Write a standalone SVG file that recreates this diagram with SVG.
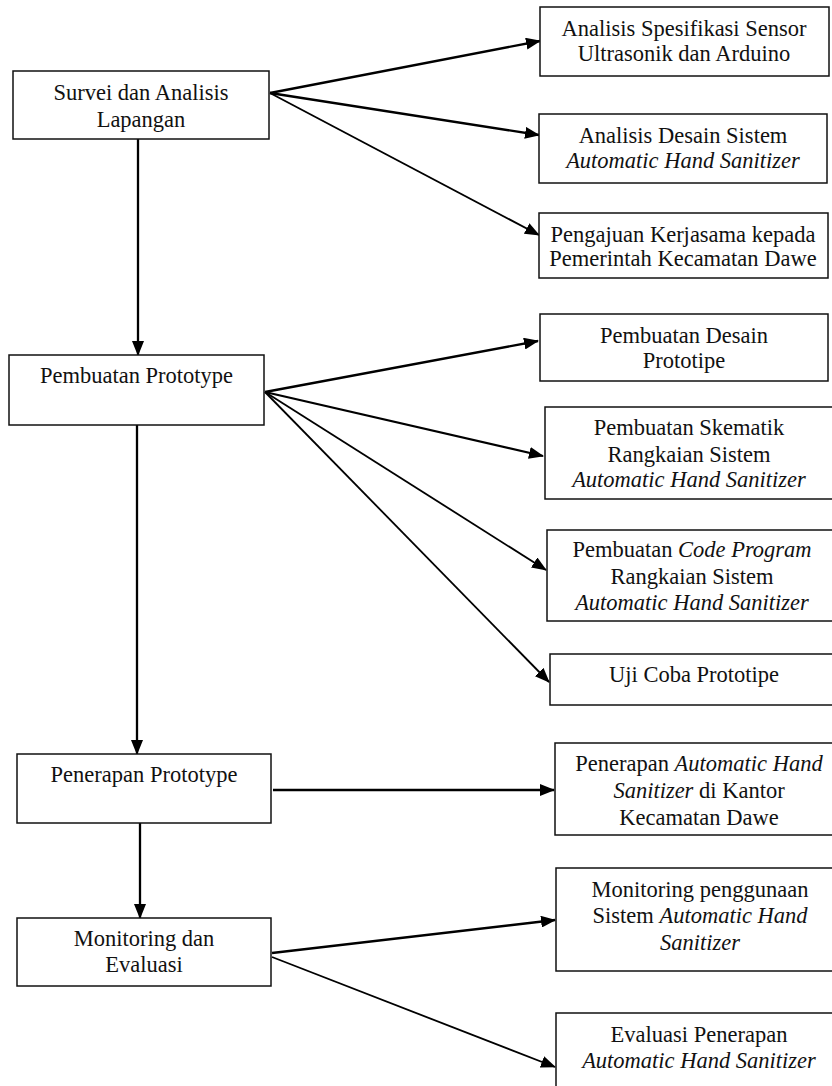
<svg xmlns="http://www.w3.org/2000/svg" width="832" height="1086" viewBox="0 0 832 1086">
<defs>
<style>
.box{fill:#fff;stroke:#111;stroke-width:1.5}
.t{font-family:"Liberation Serif","Times New Roman",serif;font-size:22.5px;fill:#111;text-anchor:middle}
.i{font-style:italic}
.c{fill:none;stroke:#000;stroke-width:2.3}
.c2{fill:none;stroke:#000;stroke-width:1.8}
</style>
<marker id="ah" markerUnits="userSpaceOnUse" markerWidth="15" markerHeight="12" refX="14" refY="6" orient="auto">
<path d="M0,0 L15,6 L0,12 Z" fill="#000"/>
</marker>
</defs>
<rect width="832" height="1086" fill="#fff"/>
<g id="connectors">
<line class="c" x1="270" y1="93" x2="540" y2="41" marker-end="url(#ah)"/>
<line class="c" x1="270" y1="93" x2="539" y2="135" marker-end="url(#ah)"/>
<line class="c2" x1="270" y1="93" x2="539" y2="235" marker-end="url(#ah)"/>
<line class="c" x1="138" y1="139" x2="138" y2="355" marker-end="url(#ah)"/>
<line class="c" x1="265" y1="392" x2="538" y2="341" marker-end="url(#ah)"/>
<line class="c" x1="265" y1="392" x2="543" y2="456" marker-end="url(#ah)"/>
<line class="c2" x1="265" y1="392" x2="546" y2="570" marker-end="url(#ah)"/>
<line class="c2" x1="265" y1="392" x2="549" y2="682" marker-end="url(#ah)"/>
<line class="c" x1="137" y1="425" x2="137" y2="754" marker-end="url(#ah)"/>
<line class="c" x1="273" y1="790" x2="554" y2="790" marker-end="url(#ah)"/>
<line class="c" x1="140" y1="823" x2="140" y2="918" marker-end="url(#ah)"/>
<line class="c" x1="272" y1="953" x2="555" y2="920" marker-end="url(#ah)"/>
<line class="c2" x1="272" y1="957" x2="555" y2="1067" marker-end="url(#ah)"/>
</g>
<g id="n-survei">
<rect class="box" x="13" y="71" width="256" height="68"/>
<text class="t" x="141" y="100">Survei dan Analisis</text>
<text class="t" x="141" y="127">Lapangan</text>
</g>
<g id="n-spesifikasi">
<rect class="box" x="540" y="7" width="289" height="69"/>
<text class="t" x="684" y="36">Analisis Spesifikasi Sensor</text>
<text class="t" x="684" y="61">Ultrasonik dan Arduino</text>
</g>
<g id="n-desain-sistem">
<rect class="box" x="539" y="114" width="288" height="69"/>
<text class="t" x="683" y="143">Analisis Desain Sistem</text>
<text class="t i" x="683" y="168">Automatic Hand Sanitizer</text>
</g>
<g id="n-kerjasama">
<rect class="box" x="539" y="213" width="289" height="65"/>
<text class="t" x="683" y="242">Pengajuan Kerjasama kepada</text>
<text class="t" x="683" y="266">Pemerintah Kecamatan Dawe</text>
</g>
<g id="n-pembuatan">
<rect class="box" x="9" y="355" width="255" height="70"/>
<text class="t" x="136.5" y="383">Pembuatan Prototype</text>
</g>
<g id="n-desain-prototipe">
<rect class="box" x="540" y="314" width="288" height="67"/>
<text class="t" x="684" y="343">Pembuatan Desain</text>
<text class="t" x="684" y="368">Prototipe</text>
</g>
<g id="n-skematik">
<rect class="box" x="545" y="407" width="288" height="92"/>
<text class="t" x="689" y="435">Pembuatan Skematik</text>
<text class="t" x="689" y="462">Rangkaian Sistem</text>
<text class="t i" x="689" y="487">Automatic Hand Sanitizer</text>
</g>
<g id="n-code">
<rect class="box" x="547" y="530" width="290" height="91"/>
<text class="t" x="692" y="557">Pembuatan <tspan class="i">Code Program</tspan></text>
<text class="t" x="692" y="584">Rangkaian Sistem</text>
<text class="t i" x="692" y="610">Automatic Hand Sanitizer</text>
</g>
<g id="n-uji">
<rect class="box" x="550" y="654" width="290" height="51"/>
<text class="t" x="694" y="682">Uji Coba Prototipe</text>
</g>
<g id="n-penerapan">
<rect class="box" x="17" y="754" width="254" height="69"/>
<text class="t" x="144" y="782">Penerapan Prototype</text>
</g>
<g id="n-penerapan-ahs">
<rect class="box" x="555" y="743" width="290" height="92"/>
<text class="t" x="699" y="771">Penerapan <tspan class="i">Automatic Hand</tspan></text>
<text class="t" x="699" y="798"><tspan class="i">Sanitizer</tspan> di Kantor</text>
<text class="t" x="699" y="825">Kecamatan Dawe</text>
</g>
<g id="n-monitoring">
<rect class="box" x="17" y="918" width="254" height="68"/>
<text class="t" x="144" y="946">Monitoring dan</text>
<text class="t" x="144" y="972">Evaluasi</text>
</g>
<g id="n-monitoring-ahs">
<rect class="box" x="556" y="868" width="290" height="103"/>
<text class="t" x="700" y="897">Monitoring penggunaan</text>
<text class="t" x="700" y="923">Sistem <tspan class="i">Automatic Hand</tspan></text>
<text class="t i" x="700" y="950">Sanitizer</text>
</g>
<g id="n-evaluasi">
<rect class="box" x="556" y="1013" width="290" height="90"/>
<text class="t" x="699" y="1042">Evaluasi Penerapan</text>
<text class="t i" x="699" y="1068">Automatic Hand Sanitizer</text>
</g>
</svg>
